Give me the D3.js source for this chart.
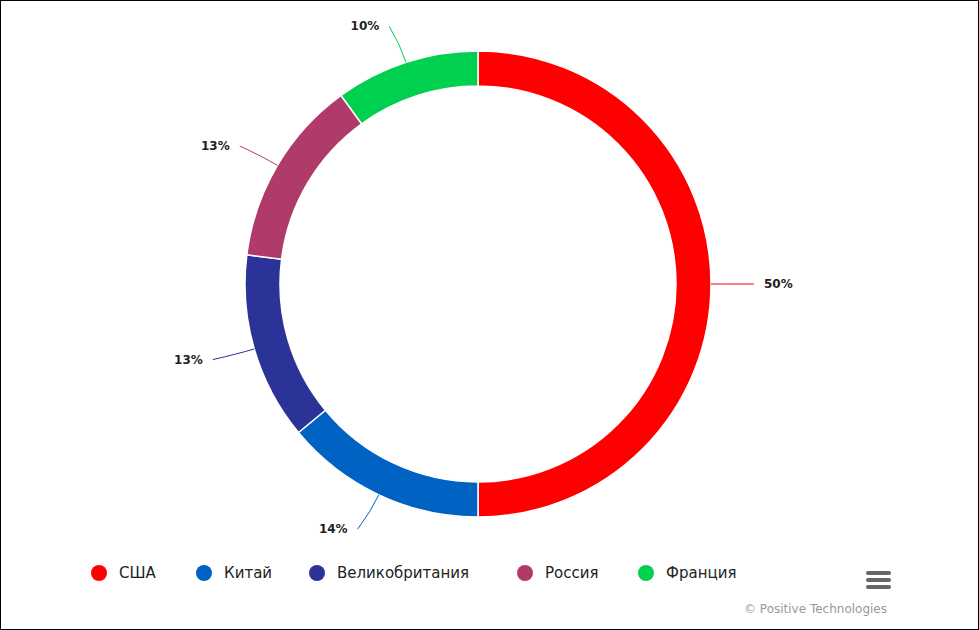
<!DOCTYPE html>
<html><head><meta charset="utf-8">
<script src="https://cdn.jsdelivr.net/npm/d3@7/dist/d3.min.js"></script>
<style>body{margin:0;background:#fff}svg{display:block}</style></head>
<body><svg id="c" width="979" height="630"></svg>
<script>
const categories = ["США","Китай","Великобритания","Россия","Франция"];
const values = [50,14,13,13,10];
const colors = ["#ff0000","#0062c3","#2b3399","#b03a6a","#00d04f"];

const svg = d3.select("#c");
svg.append("rect").attr("x",0.5).attr("y",0.5).attr("width",978).attr("height",629)
  .attr("fill","#fff").attr("stroke","#000");
const cx=478, cy=284, R=233, r=198;
const g = svg.append("g").attr("transform",`translate(${cx},${cy})`);
const data = categories.map((c,i)=>({c,v:values[i],col:colors[i]}));
const pie = d3.pie().value(d=>d.v).sort(null);
const arcs = pie(data);
const arc = d3.arc().innerRadius(r).outerRadius(R);
g.selectAll("path.s").data(arcs).join("path").attr("class","s")
  .attr("d",arc).attr("fill",d=>d.data.col).attr("stroke","#fff").attr("stroke-width",1.5);

arcs.forEach(a=>{
  const m=(a.startAngle+a.endAngle)/2, s=Math.sin(m), c=-Math.cos(m);
  const p0=[R*s,R*c], p1=[(R+18)*s,(R+18)*c];
  let ex=(R+38)*s, ey=(R+38)*c;
  const dir = s>=0?1:-1;
  if (ey < -(R+25)) ey=-(R+10);
  const e=[ex+dir*5, ey];
  g.append("path").attr("d",`M${p0}Q${p1} ${e}`).attr("fill","none")
    .attr("stroke",a.data.col).attr("stroke-width",1);
  g.append("text").attr("x",e[0]+dir*10).attr("y",ey).attr("dy","0.35em")
    .attr("text-anchor",dir>0?"start":"end")
    .attr("font-family","DejaVu Sans").attr("font-size",12).attr("font-weight","bold")
    .attr("fill","#222").text(a.data.v+"%");
});

const lx=[99,204,317,525,646];
const leg = svg.append("g");
data.forEach((d,i)=>{
  leg.append("circle").attr("cx",lx[i]).attr("cy",573).attr("r",8).attr("fill",d.col);
  leg.append("text").attr("x",lx[i]+20).attr("y",573).attr("dy","0.35em")
    .attr("font-family","DejaVu Sans").attr("font-size",15).attr("fill","#222").text(d.c);
});
[573,580,587].forEach(y=>svg.append("rect").attr("x",866).attr("y",y-2).attr("width",25)
  .attr("height",4).attr("rx",2).attr("fill","#666"));
svg.append("text").attr("x",887).attr("y",613).attr("text-anchor","end")
  .attr("font-family","DejaVu Sans").attr("font-size",12).attr("fill","#999")
  .text("© Positive Technologies");
</script></body></html>
